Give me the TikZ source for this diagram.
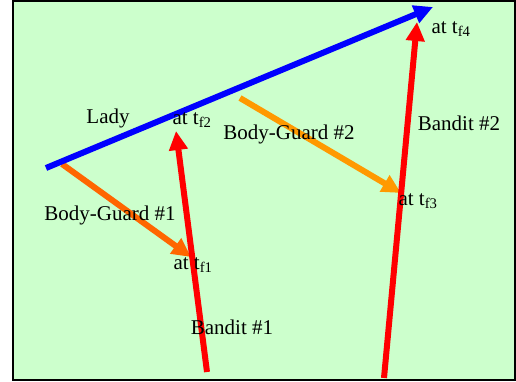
\documentclass[tikz,border=0pt]{standalone}
\usepackage{fontspec}
\setmainfont{Liberation Serif}
\usetikzlibrary{arrows.meta}

\definecolor{field}{HTML}{CCFFCC}
\definecolor{guardA}{HTML}{FF6600}
\definecolor{guardB}{HTML}{FF9900}

\begin{document}
\begin{tikzpicture}[
	x=1pt, y=-1pt,
	path/.style={line width=6pt, -{Triangle[length=19pt, width=18pt]}},
	lbl/.style={font=\fontsize{21}{24}\selectfont, inner sep=0pt},
	]
	
	\useasboundingbox (0,0) rectangle (516,382);
	\draw[line width=2pt, fill=field] (13,1) rectangle (515,380);
	
	% start and end points of the runs
	\coordinate (ladyS)    at (46,168);
	\coordinate (ladyE)    at (433,7);
	\coordinate (banditAS) at (207,372);
	\coordinate (banditAE) at (176,131);
	\coordinate (banditBS) at (384,378);
	\coordinate (banditBE) at (417,22);
	\coordinate (guardAS)  at (62,164);
	\coordinate (guardAE)  at (191,257);
	\coordinate (guardBS)  at (240,98);
	\coordinate (guardBE)  at (401,193);
	
	\draw[path, guardA] (guardAS) -- (guardAE);
	\draw[path, guardB] (guardBS) -- (guardBE);
	\draw[path, red]    (banditAS) -- (banditAE);
	\draw[path, red]    (banditBS) -- (banditBE);
	\draw[path, blue]   (ladyS) -- (ladyE);
	
	\node[lbl] (lady)   at (108,118) {Lady};
	\node[lbl] (tf2)    at (192,120) {at t\textsubscript{f2}};
	\node[lbl] (guardB) at (289,134) {Body-Guard \#2};
	\node[lbl] (banditB) at (459,123) {Bandit \#2};
	\node[lbl] (tf4)    at (451,29)  {at t\textsubscript{f4}};
	\node[lbl] (tf3)    at (418,201) {at t\textsubscript{f3}};
	\node[lbl] (guardA) at (110,215) {Body-Guard \#1};
	\node[lbl] (tf1)    at (193,265) {at t\textsubscript{f1}};
	\node[lbl] (banditA) at (232,327) {Bandit \#1};
	
\end{tikzpicture}
\end{document}
